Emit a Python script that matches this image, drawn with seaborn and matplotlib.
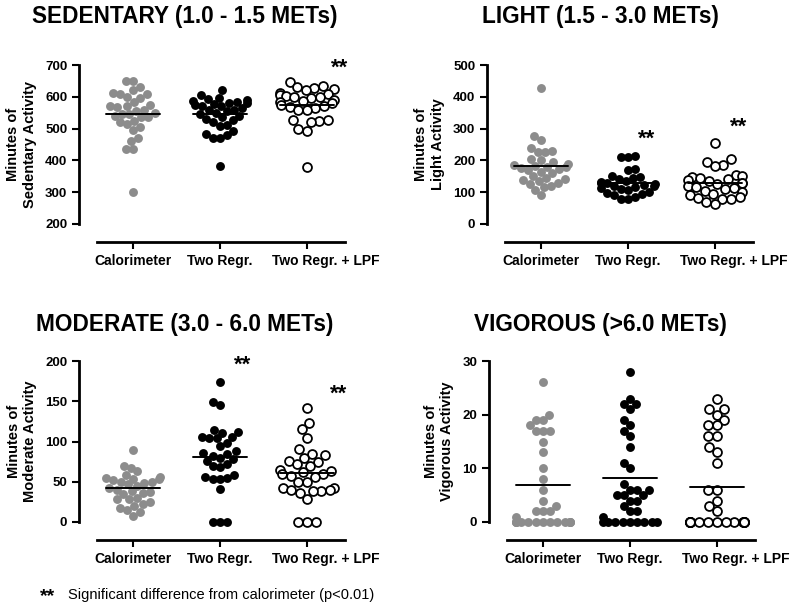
import numpy as np
import pandas as pd
import seaborn as sns
import matplotlib.pyplot as plt
from matplotlib.transforms import ScaledTranslation

groups = ["Calorimeter", "Two Regr.", "Two Regr. + LPF"]

# Sedentary (1.0 - 1.5 METs)
sed_cal = [650, 650, 632, 622, 612, 610, 608, 600, 597, 585, 573, 572, 570, 568, 548, 547,
           545, 540, 537, 535, 525, 520, 515, 505, 497, 472, 462, 435, 435, 300, 560, 555]
sed_two = [622, 605, 597, 593, 590, 588, 585, 582, 580, 578, 575, 572, 570, 565, 560, 558,
           555, 550, 545, 540, 535, 530, 528, 520, 510, 508, 492, 482, 480, 472, 470, 382]
sed_lpf = [648, 635, 632, 628, 625, 620, 612, 610, 605, 603, 600, 598, 595, 590, 588, 585,
           580, 575, 570, 568, 565, 560, 558, 528, 527, 525, 522, 500, 492, 380]

# Light (1.5 - 3.0 METs)
light_cal = [428, 278, 265, 238, 228, 225, 225, 205, 200, 195, 190, 185, 183, 180, 178, 175,
             172, 170, 165, 160, 150, 145, 140, 138, 135, 130, 125, 120, 115, 108, 90]
light_two = [215, 212, 210, 172, 170, 150, 148, 145, 140, 135, 132, 130, 128, 125, 122, 120,
             118, 115, 112, 110, 108, 100, 98, 95, 90, 85, 80, 78]
light_lpf = [255, 205, 195, 185, 182, 155, 150, 148, 145, 142, 138, 135, 130, 128, 125, 120,
             115, 112, 110, 105, 100, 95, 90, 85, 82, 80, 78, 68, 62]

# Moderate (3.0 - 6.0 METs)
mod_cal = [90, 70, 67, 63, 58, 56, 55, 54, 53, 52, 50, 50, 48, 47, 45, 42, 40, 38, 37, 36,
           35, 30, 28, 28, 25, 22, 20, 18, 15, 12, 8]
mod_two = [174, 149, 145, 114, 112, 111, 106, 105, 104, 104, 98, 94, 88, 86, 84, 82, 80, 78,
           76, 72, 70, 68, 58, 56, 55, 54, 53, 41, 0, 0, 0]
mod_lpf = [141, 123, 115, 104, 91, 85, 83, 80, 76, 75, 72, 70, 65, 63, 62, 60, 60, 57, 56,
           50, 50, 42, 42, 40, 40, 39, 38, 36, 28, 0, 0, 0]

# Vigorous (>6.0 METs)
vig_cal = [26, 20, 19, 19, 18, 17, 17, 17, 15, 13, 10, 8, 6, 4, 3, 2, 2, 2, 1,
           0, 0, 0, 0, 0, 0, 0, 0, 0, 0, 0, 0, 0]
vig_two = [28, 23, 22, 22, 21, 19, 18, 17, 16, 14, 11, 10, 7, 6, 6, 6, 5, 5, 5, 4, 4, 3,
           2, 2, 1, 0, 0, 0, 0, 0, 0, 0, 0, 0]
vig_lpf = [23, 21, 21, 20, 19, 18, 18, 16, 16, 14, 13, 11, 6, 6, 4, 3, 2,
           0, 0, 0, 0, 0, 0, 0, 0, 0, 0, 0, 0, 0, 0, 0, 0, 0, 0]

sns.set_style("ticks")
plt.rcParams['font.family'] = ['Liberation Sans', 'DejaVu Sans']
plt.rcParams.update({"text.color": "black", "axes.labelcolor": "black",
                     "axes.edgecolor": "black", "xtick.color": "black",
                     "ytick.color": "black"})

fig = plt.figure(figsize=(8, 6.08), dpi=100)
W, H = 800, 608

panels = [
    # title, ylabel, data, ylim, yticks, axes px (left, top, right, bottom), title pos, stars
    ("SEDENTARY (1.0 - 1.5 METs)", "Minutes of\nSedentary Activity",
     [sed_cal, sed_two, sed_lpf], (200, 700), range(200, 701, 100),
     (79, 65, 345, 224), (185, 16), [(2.38, 690)]),
    ("LIGHT (1.5 - 3.0 METs)", "Minutes of\nLight Activity",
     [light_cal, light_two, light_lpf], (0, 500), range(0, 501, 100),
     (487, 65, 753, 224), (600, 16), [(1.22, 268), (2.28, 305)]),
    ("MODERATE (3.0 - 6.0 METs)", "Minutes of\nModerate Activity",
     [mod_cal, mod_two, mod_lpf], (0, 200), range(0, 201, 50),
     (79, 361, 345, 522), (185, 324), [(1.26, 195), (2.37, 159)]),
    ("VIGOROUS (>6.0 METs)", "Minutes of\nVigorous Activity",
     [vig_cal, vig_two, vig_lpf], (0, 30), range(0, 31, 10),
     (489, 361, 755, 522), (600, 324), []),
]

face = ["#8c8c8c", "black", "white"]
edge = ["#8c8c8c", "black", "black"]
axes = []

for title, ylabel, data, ylim, yticks, box, tpos, stars in panels:
    l, t, r, b = box
    ax = fig.add_axes([l / W, 1 - b / H, (r - l) / W, (b - t) / H])
    axes.append(ax)
    df = pd.DataFrame({
        "group": np.repeat(groups, [len(d) for d in data]),
        "value": np.concatenate(data),
    })
    for i, g in enumerate(groups):
        sub = df[df["group"] == g]
        sns.swarmplot(x="group", y="value", data=sub, order=groups, ax=ax,
                      color=face[i], edgecolor=edge[i], linewidth=1.3 if i == 2 else 0,
                      size=6.4, warn_thresh=1)
        m = sub["value"].mean()
        ax.plot([i - 0.31, i + 0.31], [m, m], color="black", lw=1.4, zorder=5)
    ax.set_xlim(-0.62, 2.44)
    ax.set_ylim(*ylim)
    ax.set_yticks(list(yticks))
    ax.set_xlabel("")
    ax.set_ylabel(ylabel, fontsize=10.5, fontweight="bold", labelpad=6)
    sns.despine(ax=ax)
    ax.spines["left"].set_linewidth(2)
    ax.spines["bottom"].set_linewidth(2)
    ax.spines["bottom"].set_position(("outward", 13))
    ax.spines["bottom"].set_bounds(-0.41, 2.44)
    ax.tick_params(width=1.5, length=5, labelsize=9.5)
    ax.tick_params(axis="x", labelsize=10)
    for lab in ax.get_xticklabels() + ax.get_yticklabels():
        lab.set_fontweight("bold")
    # last category label sits a little right of its tick, as in the original
    last = ax.get_xticklabels()[2]
    last.set_transform(last.get_transform() + ScaledTranslation(0.19, 0, fig.dpi_scale_trans))
    ax.patch.set_alpha(0)
    for sx, sy in stars:
        ax.text(sx, sy, "**", fontsize=16, fontweight="bold", ha="center", va="center")
    fig.text(tpos[0] / W, 1 - tpos[1] / H, title, fontsize=16.3, fontweight="bold",
             ha="center", va="center")

fig.text(40 / W, 1 - 597 / H, "**", fontsize=14, fontweight="bold", ha="left", va="center")
fig.text(68 / W, 1 - 595 / H, "Significant difference from calorimeter (p<0.01)",
         fontsize=10.5, ha="left", va="center")

# let seaborn lay out the swarms once, then squeeze them a little so that
# the groups look like the narrower GraphPad columns
fig.canvas.draw()
for ax in axes:
    for c in ax.collections:
        if "draw" in c.__dict__:
            del c.draw
        off = np.asarray(c.get_offsets()).copy()
        if len(off):
            ctr = np.round(np.median(off[:, 0]))
            off[:, 0] = ctr + (off[:, 0] - ctr) * 0.78
            c.set_offsets(off)
        c.set_clip_on(False)

plt.savefig("out.png", dpi=100)
